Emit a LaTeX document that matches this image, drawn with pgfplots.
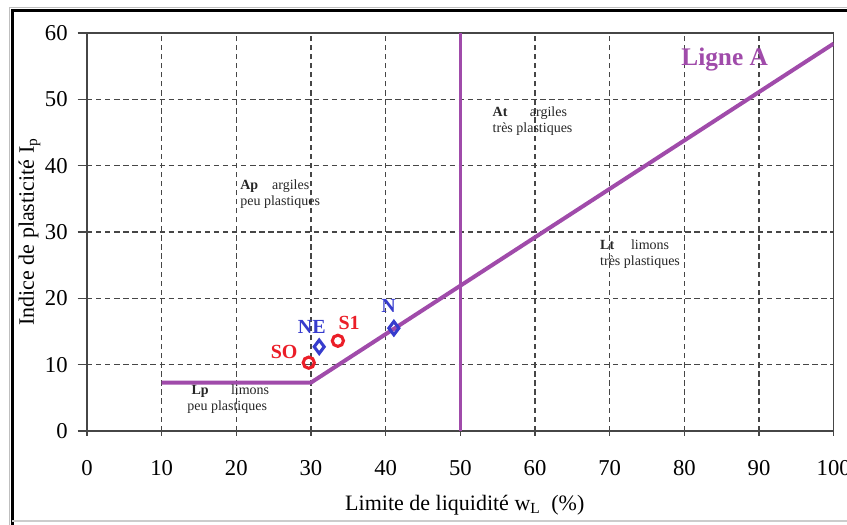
\documentclass[border=0pt]{standalone}
\usepackage{fontspec}
\setmainfont{Liberation Serif}
\usepackage{pgfplots}
\pgfplotsset{compat=1.18}
\definecolor{ligneA}{RGB}{160,75,170}
\definecolor{ptred}{RGB}{235,30,40}
\definecolor{ptblue}{RGB}{55,60,205}
\definecolor{axgray}{RGB}{70,70,70}
\begin{document}
\begin{tikzpicture}
\useasboundingbox (-65.25pt,-70.5pt) rectangle (570pt,323.25pt);
\begin{axis}[
    scale only axis,
    width=560pt, height=298.5pt,
    xmin=0, xmax=100, ymin=0, ymax=60,
    xtick={0,10,...,100}, ytick={0,10,...,60},
    xtick pos=bottom, ytick pos=left,
    xtick align=center, ytick align=outside,
    major tick length=7pt,
    grid=major,
    grid style={dash pattern=on 4pt off 2.8pt, line width=0.9pt, color=axgray},
    axis line style={line width=1pt, color=axgray},
    tick style={line width=1pt, color=axgray},
    /pgf/number format/assume math mode=true,
    ticklabel style={font=\fontsize{17}{20}\selectfont},
    xticklabel style={anchor=center, yshift=-24pt},
    yticklabel style={anchor=east, xshift=-4pt},
    xlabel={Limite de liquidité w\textsubscript{L}\ \ (\%)},
    ylabel={Indice de plasticité I\textsubscript{p}},
    label style={font=\fontsize{16.5}{19}\selectfont},
    xlabel style={at={(axis description cs:0.506,-0.186)}, anchor=center},
    ylabel style={at={(axis description cs:-0.077,0.5)}, anchor=center},
]
% Ligne A
\addplot[ligneA, line width=3pt, line join=round] coordinates {(10,7.3) (30,7.3) (100,58.4)};
% limite wL = 50
\addplot[ligneA, line width=2.6pt] coordinates {(50,0) (50,60)};
% echantillons
\addplot[only marks, mark=o, mark size=4.2pt, ptred, line width=2.3pt] coordinates {(29.7,10.3) (33.6,13.6)};
\addplot[only marks, mark=diamond, mark size=5pt, ptblue, line width=2.3pt] coordinates {(31.1,12.7) (41.1,15.5)};

\node[font=\fontsize{15}{18}\selectfont\bfseries, text=ptred] at (axis cs:26.4,11.9) {SO};
\node[font=\fontsize{15}{18}\selectfont\bfseries, text=ptblue] at (axis cs:30.1,15.7) {NE};
\node[font=\fontsize{15}{18}\selectfont\bfseries, text=ptred] at (axis cs:35.1,16.3) {S1};
\node[font=\fontsize{15}{18}\selectfont\bfseries, text=ptblue] at (axis cs:40.4,18.8) {N};
\node[font=\fontsize{19}{22}\selectfont\bfseries, text=ligneA] at (axis cs:85.4,56.0) {Ligne A};

\node[anchor=north west, inner sep=0pt, align=left, font=\fontsize{10.5}{12}\selectfont, text=black!85] at (axis cs:20.5,37.9) {\textbf{Ap}\hspace{1em}argiles\\peu plastiques};
\node[anchor=north west, inner sep=0pt, align=left, font=\fontsize{10.5}{12}\selectfont, text=black!85] at (axis cs:54.3,48.9) {\textbf{At}\hspace{1.6em}argiles\\très plastiques};
\node[anchor=north west, inner sep=0pt, align=left, font=\fontsize{10.5}{12}\selectfont, text=black!85] at (axis cs:68.7,28.9) {\textbf{Lt}\hspace{1.2em}limons\\très plastiques};
\node[anchor=north west, inner sep=0pt, align=left, font=\fontsize{10.5}{12}\selectfont, text=black!85] at (axis cs:13.4,7.0) {\hspace{0.3em}\textbf{Lp}\hspace{1.6em}limons\\peu plastiques};
\end{axis}
% cadre
\draw[gray!50, line width=0.6pt] (-58.5pt,-72pt) -- (-58.5pt,318pt) -- (572pt,318pt);
\draw[black, line width=2.4pt] (-56pt,-72pt) -- (-56pt,315.5pt) -- (572pt,315.5pt);
\draw[gray!40, line width=0.8pt] (-56pt,-67.5pt) -- (572pt,-67.5pt);
\end{tikzpicture}
\end{document}
